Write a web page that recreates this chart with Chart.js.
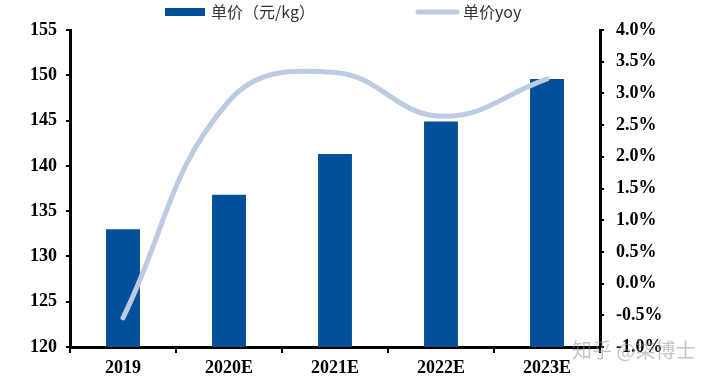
<!DOCTYPE html>
<html>
<head>
<meta charset="utf-8">
<script src="https://cdn.jsdelivr.net/npm/chart.js@4"></script>
<style>
  html, body { margin: 0; padding: 0; background: #fff; }
  #wrap { width: 720px; height: 383px; position: relative; }
</style>
</head>
<body>
<div id="wrap"><canvas id="c" width="720" height="383"></canvas></div>
<script>
const categories = ['2019', '2020E', '2021E', '2022E', '2023E'];
const priceValues = [133.0, 136.8, 141.3, 144.9, 149.6];
const yoyValues = [-0.54, 2.88, 3.33, 2.64, 3.23];
const priceLabel = '单价（元/kg）';
const yoyLabel = '单价yoy';
const watermark = '知乎 @柒博士';

const BAR_COLOR = '#044f99';
const LINE_COLOR = '#bccbe1';
const tickFont = { family: '"Liberation Serif", "Times New Roman", serif', size: 18, weight: 'bold' };

const legendPlugin = {
  id: 'customLegend',
  afterDraw(chart) {
    const ctx = chart.ctx;
    const ds = chart.data.datasets;
    ctx.save();
    ctx.font = '16px "Noto Sans CJK SC", "Noto Sans", sans-serif';
    ctx.textBaseline = 'middle';
    // bar item
    ctx.fillStyle = ds[0].backgroundColor;
    ctx.fillRect(165, 8, 40, 8);
    ctx.fillStyle = '#333333';
    ctx.fillText(ds[0].label, 211, 12);
    // line item
    ctx.strokeStyle = ds[1].borderColor;
    ctx.lineWidth = 5;
    ctx.lineCap = 'round';
    ctx.beginPath();
    ctx.moveTo(418, 12);
    ctx.lineTo(457, 12);
    ctx.stroke();
    ctx.fillStyle = '#333333';
    ctx.fillText(ds[1].label, 463, 12);
    // watermark
    ctx.font = '20px "Noto Sans CJK SC", sans-serif';
    ctx.fillStyle = 'rgba(150,150,150,0.55)';
    ctx.fillText(watermark, 572, 350);
    ctx.restore();
  }
};

new Chart(document.getElementById('c'), {
  type: 'bar',
  data: {
    labels: categories,
    datasets: [
      {
        type: 'bar',
        label: priceLabel,
        data: priceValues,
        backgroundColor: BAR_COLOR,
        yAxisID: 'y',
        categoryPercentage: 1,
        barPercentage: 0.32,
        order: 1
      },
      {
        type: 'line',
        label: yoyLabel,
        data: yoyValues,
        borderColor: LINE_COLOR,
        backgroundColor: LINE_COLOR,
        borderWidth: 5,
        pointRadius: 0,
        tension: 0.42,
        borderCapStyle: 'round',
        yAxisID: 'y2',
        order: 0
      }
    ]
  },
  options: {
    responsive: false,
    animation: false,
    devicePixelRatio: 1,
    layout: { padding: { top: 30, left: 0, right: 0, bottom: 0 } },
    plugins: { legend: { display: false }, tooltip: { enabled: false } },
    scales: {
      x: {
        offset: true,
        grid: { display: true, drawOnChartArea: false, offset: true, color: '#000', lineWidth: 2, tickLength: 6 },
        border: { display: true, color: '#000', width: 3 },
        ticks: { color: '#000', font: tickFont, padding: 5, maxRotation: 0 },
        afterFit(s) { s.height = 36; }
      },
      y: {
        position: 'left',
        min: 120, max: 155,
        ticks: { stepSize: 5, color: '#000', font: tickFont, padding: 9 },
        grid: { display: true, drawOnChartArea: false, color: '#000', lineWidth: 2, tickLength: 4 },
        border: { display: true, color: '#000', width: 3 },
        afterFit(s) { s.width = 70; }
      },
      y2: {
        position: 'right',
        min: -1, max: 4,
        ticks: { stepSize: 0.5, color: '#000', font: tickFont, padding: 12,
          callback: v => v.toFixed(1) + '%' },
        grid: { display: true, drawOnChartArea: false, color: '#000', lineWidth: 2, tickLength: 4 },
        border: { display: true, color: '#000', width: 3 },
        afterFit(s) { s.width = 120; }
      }
    }
  },
  plugins: [legendPlugin]
});
</script>
</body>
</html>
